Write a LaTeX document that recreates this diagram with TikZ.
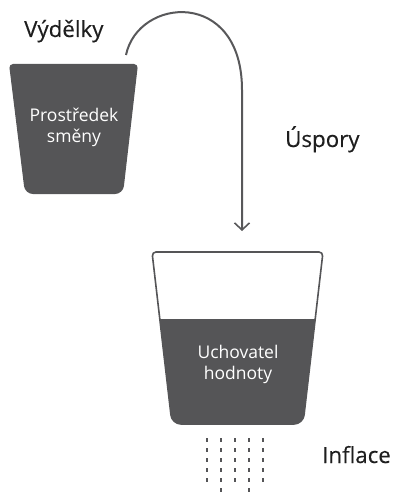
\documentclass[tikz,border=0pt]{standalone}
\usepackage{fontspec}
\setmainfont{Open Sans}
\newfontfamily\labelfont{Open Sans}[FakeBold=0.35]
\usetikzlibrary{arrows.meta}
\definecolor{cupgray}{HTML}{555557}
\definecolor{linegray}{HTML}{58585A}
\definecolor{ink}{HTML}{1E1E1E}
\tikzset{
  label/.style={text=ink, font=\labelfont\fontsize{22.3}{26}\selectfont, inner sep=0pt},
  cuptext/.style={text=white, font=\fontsize{17.5}{21}\selectfont, align=center, inner sep=0pt},
  flow/.style={draw=linegray, line width=2pt, -{Straight Barb[length=7pt,width=15pt,line width=1.6pt]}},
  leak/.style={draw=cupgray, line width=2.8pt, dash pattern=on 3.5pt off 6.5pt}
}
\begin{document}
\begin{tikzpicture}[x=1pt,y=-1pt]
  \useasboundingbox (0,0) rectangle (396,494);

  % exchange cup (top left)
  \fill[cupgray] (73,64) [rounded corners=4pt] -- (138,64)
    [rounded corners=8pt] -- (123,194) -- (25,194) [rounded corners=4pt] -- (9,64) -- cycle;
  \node[cuptext] (medium) at (74,127) {Prostředek\\směny};

  % store-of-value cup (bottom), filled up to the savings level
  \def\storecup{(237,252) [rounded corners=4pt] -- (323,252)
      [rounded corners=9pt] -- (303,424) -- (172,424) [rounded corners=4pt] -- (152,252) -- cycle}
  \begin{scope}
    \clip \storecup;
    \fill[cupgray] (140,319) rectangle (330,430);
  \end{scope}
  \draw[draw=cupgray, line width=1.6pt] \storecup;
  \node[cuptext] (store) at (238,364) {Uchovatel\\hodnoty};

  % labels
  \node[label, anchor=base west] (earn) at (24,37) {Výdělky};
  \node[label, anchor=base west] (save) at (285,147) {Úspory};
  \node[label, anchor=base west] (infl) at (322,463) {Inflace};

  % savings flow from the earnings to the store of value
  \coordinate (flowstart) at (126,55);
  \coordinate (flowend) at (242,231);
  \draw[flow] (flowstart) .. controls (138,-3) and (242,-12) .. (242,90) -- (flowend);

  % inflation leaking out of the bottom
  \foreach \x in {207,235,263} \draw[leak] (\x,438) -- (\x,484);
  \foreach \x in {221,249} \draw[leak] (\x,438) -- (\x,496);
\end{tikzpicture}
\end{document}
